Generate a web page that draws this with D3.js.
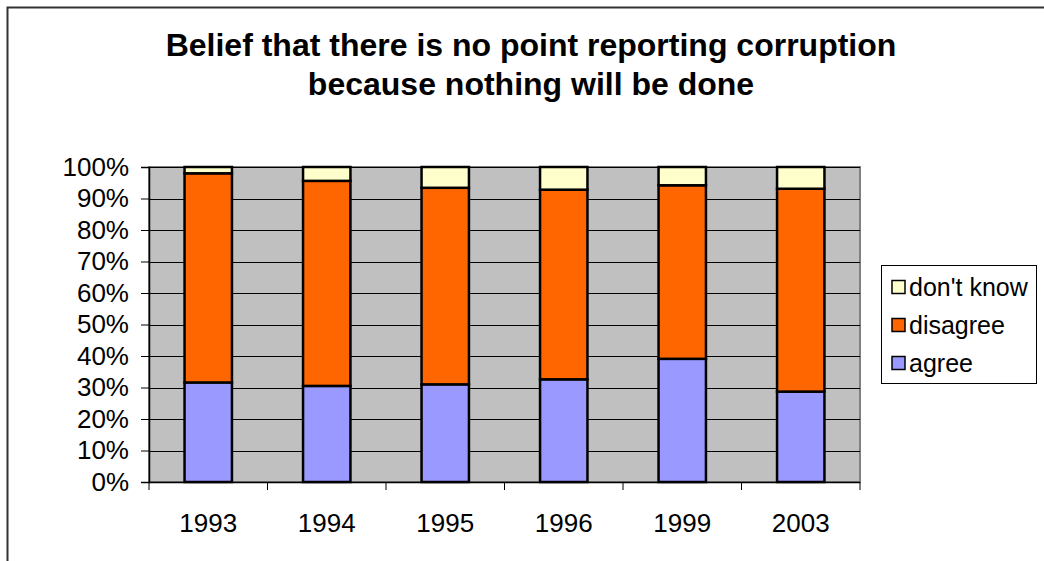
<!DOCTYPE html>
<html>
<head>
<meta charset="utf-8">
<script src="https://cdn.jsdelivr.net/npm/d3@7"></script>
<style>
  html, body { margin: 0; padding: 0; background: #fff; }
  svg { display: block; font-family: "Liberation Sans", Arial, sans-serif; }
</style>
</head>
<body>
<svg id="chart" width="1044" height="561"></svg>
<script>
const categories = ["1993", "1994", "1995", "1996", "1999", "2003"];
const agree      = [31.6, 30.5, 31.0, 32.6, 39.1, 28.7];
const disagree   = [66.4, 65.1, 62.4, 60.2, 55.1, 64.4];
const dontKnow   = [2.0, 4.4, 6.6, 7.2, 5.8, 6.9];
const seriesNames = ["agree", "disagree", "don't know"];
const seriesColors = ["#9999FF", "#FF6600", "#FFFFCC"];
const yTicks = [0, 10, 20, 30, 40, 50, 60, 70, 80, 90, 100];
const titleLines = ["Belief that there is no point reporting corruption", "because nothing will be done"];

const svg = d3.select("#chart");

// outer chart border (extends past the window on right/bottom)
svg.append("rect").attr("x", 7.5).attr("y", 7.5).attr("width", 1200).attr("height", 700)
  .attr("fill", "#fff").attr("stroke", "#333").attr("stroke-width", 2);

const plot = { left: 149, right: 860, top: 167, bottom: 482 };

const x = d3.scaleBand().domain(categories).range([plot.left, plot.right]).paddingInner(0.6).paddingOuter(0.3);
const xb = d3.scaleBand().domain(categories).range([plot.left, plot.right]).padding(0);
const y = d3.scaleLinear().domain([0, 100]).range([plot.bottom, plot.top]);

// plot area
svg.append("rect").attr("x", plot.left).attr("y", plot.top)
  .attr("width", plot.right - plot.left).attr("height", plot.bottom - plot.top)
  .attr("fill", "#C0C0C0").attr("stroke", "#808080").attr("stroke-width", 2);

// gridlines
svg.append("g").selectAll("line").data(yTicks.filter(d => d > 0)).join("line")
  .attr("x1", plot.left).attr("x2", plot.right)
  .attr("y1", d => Math.round(y(d)) + 0.5).attr("y2", d => Math.round(y(d)) + 0.5)
  .attr("stroke", "#000").attr("stroke-width", 1);

// stacked data
const table = categories.map((c, i) => ({ cat: c, agree: agree[i], disagree: disagree[i], dontKnow: dontKnow[i] }));
const stack = d3.stack().keys(["agree", "disagree", "dontKnow"]);
const layers = stack(table);

svg.append("g").selectAll("g").data(layers).join("g")
  .attr("fill", (d, i) => seriesColors[i])
  .selectAll("rect").data(d => d).join("rect")
  .attr("x", d => x(d.data.cat))
  .attr("width", x.bandwidth())
  .attr("y", d => y(d[1]))
  .attr("height", d => y(d[0]) - y(d[1]))
  .attr("stroke", "#000").attr("stroke-width", 2.5);

// y axis
const yAxis = d3.axisLeft(y).tickValues(yTicks).tickFormat(d => d + "%").tickSize(8).tickPadding(12);
const gy = svg.append("g").attr("transform", `translate(${plot.left},0)`).call(yAxis);
gy.select(".domain").attr("stroke", "#000").attr("stroke-width", 1.5);
gy.selectAll(".tick line").attr("stroke", "#000");
gy.selectAll(".tick text").attr("font-size", 26).attr("fill", "#000")
  .attr("font-family", "Liberation Sans, Arial, sans-serif");

// x axis
const gx = svg.append("g").attr("transform", `translate(0,${plot.bottom})`);
gx.append("line").attr("x1", plot.left).attr("x2", plot.right).attr("y1", 0.5).attr("y2", 0.5)
  .attr("stroke", "#000").attr("stroke-width", 1.5);
const bounds = categories.map(c => xb(c)).concat([plot.right]);
gx.selectAll("line.tk").data(bounds).join("line").attr("class", "tk")
  .attr("x1", d => d).attr("x2", d => d).attr("y1", 0).attr("y2", 8)
  .attr("stroke", "#000").attr("stroke-width", 1);
gx.selectAll("text").data(categories).join("text")
  .attr("x", d => xb(d) + xb.bandwidth() / 2).attr("y", 50)
  .attr("text-anchor", "middle").attr("font-size", 26).attr("fill", "#000")
  .text(d => d);

// title
svg.append("g").selectAll("text").data(titleLines).join("text")
  .attr("x", 531).attr("y", (d, i) => 56 + i * 39)
  .attr("text-anchor", "middle").attr("font-size", 32).attr("font-weight", "bold").attr("fill", "#000")
  .text(d => d);

// legend
const lg = svg.append("g");
lg.append("rect").attr("x", 881.5).attr("y", 265.5).attr("width", 155).attr("height", 118)
  .attr("fill", "#fff").attr("stroke", "#000").attr("stroke-width", 1);
const legendOrder = [2, 1, 0];
const items = lg.selectAll("g.item").data(legendOrder).join("g").attr("class", "item")
  .attr("transform", (d, i) => `translate(0,${287 + i * 38})`);
items.append("rect").attr("x", 892).attr("y", -6.5).attr("width", 13).attr("height", 13)
  .attr("fill", d => seriesColors[d]).attr("stroke", "#000").attr("stroke-width", 1.5);
items.append("text").attr("x", 909).attr("y", 9).attr("font-size", 25).attr("fill", "#000")
  .text(d => seriesNames[d]);
</script>
</body>
</html>
